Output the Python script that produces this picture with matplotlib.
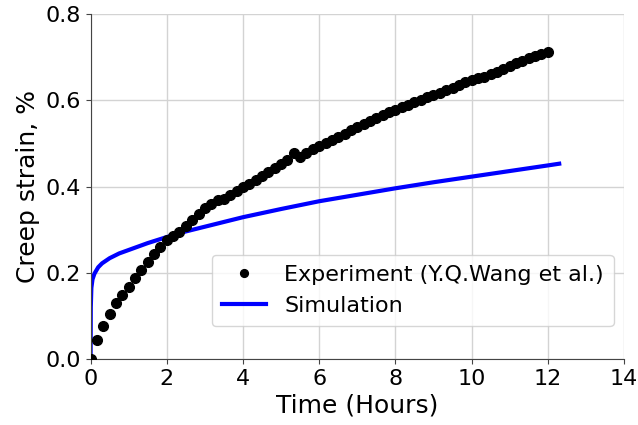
import matplotlib
matplotlib.use("Agg")
import matplotlib.pyplot as plt
import numpy as np

# experiment: one reading every 10 minutes
exp_time = np.arange(0, 73) / 6.0
exp_strain = [0.000, 0.045, 0.077, 0.105, 0.129, 0.148, 0.168, 0.189, 0.207, 0.225,
              0.244, 0.259, 0.275, 0.285, 0.295, 0.309, 0.322, 0.337, 0.350, 0.360,
              0.368, 0.372, 0.380, 0.390, 0.398, 0.407, 0.416, 0.425, 0.434, 0.444,
              0.453, 0.462, 0.478, 0.468, 0.478, 0.486, 0.494, 0.500, 0.508, 0.516,
              0.523, 0.530, 0.537, 0.545, 0.552, 0.558, 0.565, 0.572, 0.578, 0.584,
              0.590, 0.596, 0.601, 0.607, 0.612, 0.617, 0.623, 0.628, 0.636, 0.642,
              0.647, 0.651, 0.655, 0.660, 0.666, 0.673, 0.680, 0.686, 0.692, 0.697,
              0.702, 0.707, 0.712]

sim_time = [0, 0.005, 0.02, 0.05, 0.1, 0.2, 0.3, 0.5, 0.75, 1.0, 1.5, 2.0, 2.5, 3.0,
            4.0, 5.0, 6.0, 7.0, 8.0, 9.0, 10.0, 11.0, 12.0, 12.3]
sim_strain = [0, 0.12, 0.165, 0.185, 0.198, 0.213, 0.222, 0.234, 0.245, 0.253, 0.269,
              0.283, 0.296, 0.307, 0.329, 0.348, 0.366, 0.381, 0.396, 0.410, 0.423,
              0.436, 0.449, 0.453]

fig = plt.figure(figsize=(6.38, 4.25), dpi=100)
ax = fig.add_axes([0.142, 0.155, 0.836, 0.812])

ax.plot(exp_time, exp_strain, 'o', color='black', markersize=7,
        label='Experiment (Y.Q.Wang et al.)', zorder=3)
ax.plot(sim_time, sim_strain, '-', color='blue', linewidth=3, label='Simulation', zorder=2)

ax.set_xlim(0, 14)
ax.set_ylim(0, 0.8)
ax.set_xticks(range(0, 15, 2))
ax.set_yticks([0.0, 0.2, 0.4, 0.6, 0.8])
ax.grid(True, color='#d3d3d3', linewidth=1)
ax.set_axisbelow(True)
for s in ['top', 'right']:
    ax.spines[s].set_visible(False)
for s in ['left', 'bottom']:
    ax.spines[s].set_color('#444444')
ax.tick_params(labelsize=16, colors='#444444', labelcolor='black')

ax.set_xlabel('Time (Hours)', fontsize=18, labelpad=3)
ax.set_ylabel('Creep strain, %', fontsize=18, labelpad=4)

ax.legend(loc='lower right', bbox_to_anchor=(0.981, 0.096), fontsize=16,
          borderaxespad=0, markerscale=0.8, borderpad=0.45)

fig.savefig('out.png', dpi=100)
